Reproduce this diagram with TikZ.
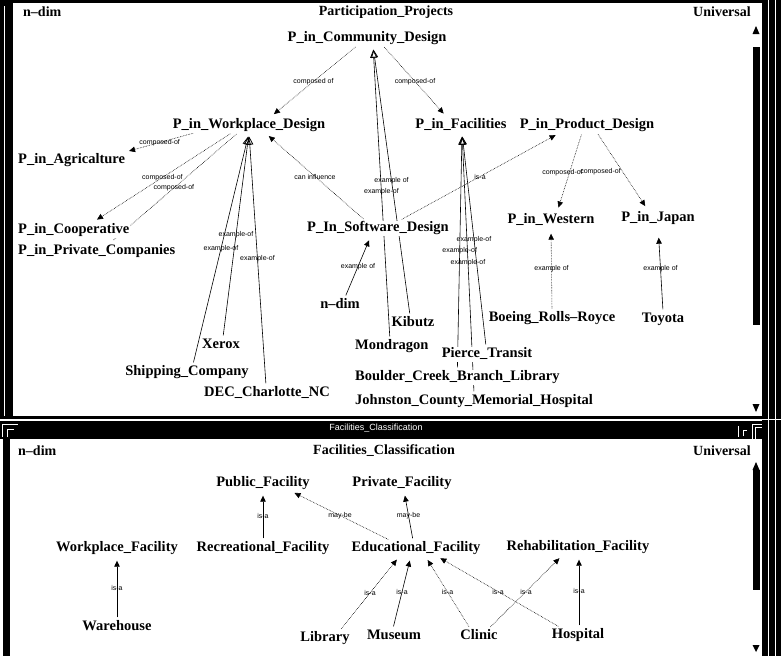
\documentclass[tikz,border=0pt]{standalone}
\usepackage{fontspec}
\setmainfont{Liberation Serif}
\setsansfont{Liberation Sans}
\usetikzlibrary{arrows.meta}
\pgfdeclarelayer{back}
\pgfdeclarelayer{links}
\pgfsetlayers{back,links,main}

\begin{document}
\begin{tikzpicture}[
  x=1pt, y=-1pt,
  cls/.style={fill=white, inner sep=1pt, text height=10pt, text depth=3pt,
    font=\bfseries\fontsize{14.5}{16}\selectfont},
  hdr/.style={inner sep=0pt, font=\bfseries\fontsize{14}{16}\selectfont},
  lbl/.style={font=\sffamily\fontsize{7}{8}\selectfont, inner sep=0pt},
  rel/.style={densely dotted, line width=0.6pt, shorten <=2pt, shorten >=5pt,
    -{Triangle[length=6pt,width=5.5pt]}},
  isa/.style={line width=0.6pt, shorten <=2pt, shorten >=5pt,
    -{Triangle[length=6pt,width=5.5pt]}},
  inst/.style={line width=0.6pt, shorten <=2pt, shorten >=4pt,
    -{Triangle[open,length=8pt,width=7pt,line width=0.8pt]}},
  frameline/.style={white, line width=1pt},
]
\begin{pgfonlayer}{back}
\fill[white] (0,0) rectangle (781,656);
\end{pgfonlayer}
\useasboundingbox (0,0) rectangle (781,656);

% window frames
\fill (0,0) rectangle (762,3);
\fill (0,0) rectangle (13,418);
\draw[frameline] (4.5,6) -- (4.5,416);
\fill (0,416) rectangle (762,418.5);
\fill (762,0) rectangle (781,656);
\draw[frameline] (768,0) -- (768,656) (775,0) -- (775,656);
\draw[frameline] (762,419.5) -- (781,419.5);
\fill (0,420.5) rectangle (762,439);
\fill (3,439) rectangle (10,656);
\draw[frameline] (2,437) -- (2,424) -- (18,424) (7,437) -- (7,429) -- (14,429);
\draw[frameline] (738,426) -- (738,437) (743,436) -- (743,430) -- (747,430);
\draw[frameline] (752,439) -- (752,424) -- (762,424) (755,439) -- (755,427) -- (762,427);
\node[white, font=\sffamily\fontsize{9}{10}\selectfont] (wintitle) at (376,428) {Facilities\_Classification};

% scroll bars
\fill (753,47) rectangle (760,325);
\fill (752.5,34) -- (759.5,34) -- (756,26) -- cycle;
\fill (752.5,404) -- (759.5,404) -- (756,412) -- cycle;
\fill (753,470) rectangle (760,590);
\fill (752.5,470) -- (759.5,470) -- (756,462) -- cycle;
\fill (752.5,645) -- (759.5,645) -- (756,652) -- cycle;

% Participation_Projects
\node[hdr, anchor=west] (hdrdim) at (23,12) {n--dim};
\node[hdr] (hdrpp) at (386,12) {Participation\_Projects};
\node[hdr] (hdruni) at (722,12) {Universal};

\node[cls] (cd) at (367,38) {P\_in\_Community\_Design};
\node[cls] (wpd) at (249,125) {P\_in\_Workplace\_Design};
\node[cls] (fac) at (461,125) {P\_in\_Facilities};
\node[cls] (prd) at (587,125) {P\_in\_Product\_Design};
\node[cls, anchor=west] (agr) at (17,160) {P\_in\_Agricalture};
\node[cls, anchor=west] (coop) at (17,230) {P\_in\_Cooperative};
\node[cls, anchor=west] (priv) at (17,251) {P\_in\_Private\_Companies};
\node[cls] (swd) at (378,228) {P\_In\_Software\_Design};
\node[cls] (wes) at (551,220) {P\_in\_Western};
\node[cls] (jap) at (658,218) {P\_in\_Japan};
\node[cls] (nd) at (340,305) {n--dim};
\node[cls] (kib) at (413,323) {Kibutz};
\node[cls, anchor=west] (mon) at (354,346) {Mondragon};
\node[cls] (xer) at (221,345) {Xerox};
\node[cls] (ship) at (187,372) {Shipping\_Company};
\node[cls] (dec) at (267,393) {DEC\_Charlotte\_NC};
\node[cls] (boe) at (552,318) {Boeing\_Rolls--Royce};
\node[cls] (toy) at (663,319) {Toyota};
\node[cls] (pie) at (487,354) {Pierce\_Transit};
\node[cls, anchor=west] (bou) at (354,377) {Boulder\_Creek\_Branch\_Library};
\node[cls, anchor=west] (joh) at (354,401) {Johnston\_County\_Memorial\_Hospital};

\begin{pgfonlayer}{links}
\draw[rel] ([xshift=-10pt]cd.south) -- node[lbl] {composed of} ([xshift=21pt]wpd.north);
\draw[rel] ([xshift=16pt]cd.south) -- node[lbl] {composed-of} ([xshift=-14pt]fac.north);
\draw[inst] ([xshift=-3pt]kib.north) -- node[lbl] {example of} ([xshift=6pt]cd.south);
\draw[inst] ([xshift=-2pt]mon.north) -- node[lbl] {example-of} ([xshift=6pt]cd.south);
\draw[inst] ([xshift=2pt]xer.north) -- node[lbl] {example-of} (wpd.south);
\draw[inst] ([xshift=6pt]ship.north) -- node[lbl] {example-of} (wpd.south);
\draw[inst] ([xshift=-1pt]dec.north) -- node[lbl] {example-of} (wpd.south);
\draw[rel] ([xshift=-54pt]wpd.south) -- node[lbl] {composed-of} ([xshift=-2pt]agr.north east);
\draw[rel] ([xshift=-17pt]wpd.south) -- node[lbl] {composed-of} ([xshift=19pt]coop.north);
\draw[rel, -] ([xshift=-11pt]wpd.south) -- node[lbl] {composed-of} ([xshift=13pt]priv.north);
\draw[rel] ([xshift=-13pt]swd.north) -- node[lbl] {can influence} ([xshift=16pt]wpd.south);
\draw[rel] ([xshift=22pt]swd.north) -- node[lbl] {is-a} ([xshift=-27pt]prd.south);
\draw[isa] ([xshift=5pt]nd.north) -- node[lbl] {example of} ([xshift=-7pt]swd.south);
\draw[inst] ([xshift=-1pt]pie.north) -- node[lbl] {example-of} ([xshift=1pt]fac.south);
\draw[inst] (bou.north) -- node[lbl] {example-of} ([xshift=1pt]fac.south);
\draw[inst] (joh.north) -- node[lbl] {example-of} ([xshift=1pt]fac.south);
\draw[rel] ([xshift=-5pt]prd.south) -- node[lbl, xshift=-7pt] {composed-of} ([xshift=6pt]wes.north);
\draw[rel] ([xshift=10pt]prd.south) -- node[lbl, xshift=-22pt] {composed-of} ([xshift=-10pt]jap.north);
\draw[rel, shorten >=6pt] (boe.north) -- node[lbl] {example of} (wes.south);
\draw[isa, shorten >=12pt] (toy.north) -- node[lbl] {example of} (jap.south);
\end{pgfonlayer}

% Facilities_Classification
\node[hdr, anchor=west] (hdrdimb) at (18,451) {n--dim};
\node[hdr] (hdrfc) at (384,451) {Facilities\_Classification};
\node[hdr] (hdrunib) at (722,451) {Universal};

\node[cls] (pub) at (263,483) {Public\_Facility};
\node[cls] (pri) at (402,483) {Private\_Facility};
\node[cls] (wkf) at (117,548) {Workplace\_Facility};
\node[cls] (rec) at (263,548) {Recreational\_Facility};
\node[cls] (edu) at (416,548) {Educational\_Facility};
\node[cls] (reh) at (578,547) {Rehabilitation\_Facility};
\node[cls] (war) at (117,627) {Warehouse};
\node[cls] (lib) at (325,638) {Library};
\node[cls] (mus) at (394,636) {Museum};
\node[cls] (cli) at (479,636) {Clinic};
\node[cls] (hos) at (578,635) {Hospital};

\begin{pgfonlayer}{links}
\draw[isa] (war.north) -- node[lbl] {is-a} (wkf.south);
\draw[isa] (rec.north) -- node[lbl] {is-a} (pub.south);
\draw[rel] ([xshift=-26pt]edu.north) -- node[lbl] {may-be} ([xshift=27pt]pub.south);
\draw[isa] ([xshift=-3pt]edu.north) -- node[lbl] {may-be} ([xshift=2pt]pri.south);
\draw[rel] ([xshift=15pt]lib.north) -- node[lbl] {is-a} ([xshift=-16pt]edu.south);
\draw[isa] ([xshift=-1pt]mus.north) -- node[lbl] {is-a} ([xshift=-5pt]edu.south);
\draw[rel] ([xshift=-9pt]cli.north) -- node[lbl] {is-a} ([xshift=9pt]edu.south);
\draw[rel] ([xshift=-18pt]hos.north) -- node[lbl] {is-a} ([xshift=20pt]edu.south);
\draw[rel] ([xshift=10pt]cli.north) -- node[lbl] {is-a} ([xshift=-15pt]reh.south);
\draw[isa] ([xshift=1pt]hos.north) -- node[lbl] {is-a} ([xshift=1pt]reh.south);
\end{pgfonlayer}
\end{tikzpicture}
\end{document}
